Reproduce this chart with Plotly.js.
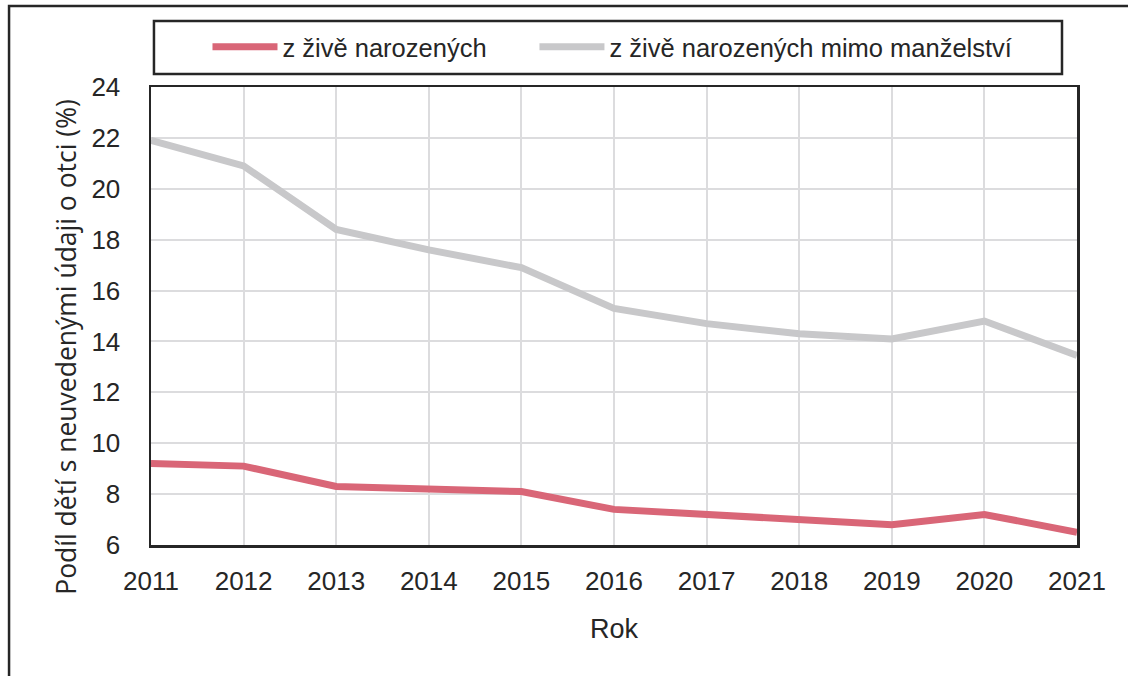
<!DOCTYPE html>
<html>
<head>
<meta charset="utf-8">
<script src="https://cdn.plot.ly/plotly-3.0.1.min.js"></script>
<style>
html,body{margin:0;padding:0;background:#fff;}
#chart{width:1128px;height:676px;}
</style>
</head>
<body>
<div id="chart"></div>
<script>
const years = [2011, 2012, 2013, 2014, 2015, 2016, 2017, 2018, 2019, 2020, 2021];
const zZiveNarozenych = [9.2, 9.1, 8.3, 8.2, 8.1, 7.4, 7.2, 6.95, 6.8, 7.2, 6.5];
const zZiveNarozenychMimoManzelstvi = [21.9, 20.9, 18.4, 17.6, 16.9, 15.3, 14.7, 14.3, 14.1, 14.8, 13.45];
const seriesNames = ["z živě narozených", "z živě narozených mimo manželství"];
const yTicks = [6, 8, 10, 12, 14, 16, 18, 20, 22, 24];
const yTitle = "Podíl dětí s neuvedenými údaji o otci (%)";
const xTitle = "Rok";

const tickFont = {family: "Liberation Sans, Arial, sans-serif", size: 26, color: "#262626"};
const legendFont = {family: "Liberation Sans, Arial, sans-serif", size: 25.5, color: "#262626"};

const traces = [
  {x: years, y: zZiveNarozenych, name: seriesNames[0], type: "scatter", mode: "lines",
   line: {color: "#D96677", width: 7}, legend: "legend"},
  {x: years, y: zZiveNarozenychMimoManzelstvi, name: seriesNames[1], type: "scatter", mode: "lines",
   line: {color: "#C8C8CA", width: 7}, legend: "legend2"}
];

const layout = {
  width: 1128, height: 676,
  margin: {l: 151, r: 51, t: 87, b: 131, pad: 0},
  paper_bgcolor: "#fff", plot_bgcolor: "#fff",
  showlegend: true,
  legend: {orientation: "h", x: 0.061, y: 1.087, xanchor: "left", yanchor: "middle",
           font: legendFont, bgcolor: "rgba(0,0,0,0)", borderwidth: 0, itemwidth: 65},
  legend2: {orientation: "h", x: 0.4141, y: 1.087, xanchor: "left", yanchor: "middle",
           font: legendFont, bgcolor: "rgba(0,0,0,0)", borderwidth: 0, itemwidth: 65},
  xaxis: {
    range: [2011, 2021], tickvals: years, ticktext: years.map(String),
    showgrid: true, gridcolor: "#DCDCDE", gridwidth: 2,
    showline: true, mirror: true, linecolor: "#262626", linewidth: 2.5,
    ticks: "", tickfont: tickFont, ticklabelstandoff: 11, zeroline: false,
    title: {text: xTitle, font: {family: "Liberation Sans, Arial, sans-serif", size: 27, color: "#262626"}, standoff: 25},
    automargin: false, fixedrange: true
  },
  yaxis: {
    range: [6, 24], tickvals: yTicks, ticktext: yTicks.map(String),
    showgrid: true, gridcolor: "#DCDCDE", gridwidth: 2,
    showline: true, mirror: true, linecolor: "#262626", linewidth: 2.5,
    ticks: "", tickfont: tickFont, ticklabelstandoff: 23, zeroline: false,
    automargin: false, fixedrange: true
  },
  annotations: [
    {text: yTitle, xref: "paper", yref: "paper", x: -0.092, y: 0.4323, xanchor: "center", yanchor: "middle",
     textangle: -90, showarrow: false, font: {family: "Open Sans, sans-serif", size: 26.5, color: "#262626"}}
  ],
  shapes: [
    {type: "rect", xref: "paper", yref: "paper", x0: -0.1533, x1: 1.2, y0: -0.4, y1: 1.1769,
     line: {color: "#262626", width: 2.5}, fillcolor: "rgba(0,0,0,0)", layer: "below"},
    {type: "rect", xref: "paper", yref: "paper", x0: 0.0032, x1: 0.9838, y0: 1.0284, y1: 1.1441,
     line: {color: "#262626", width: 2.5}, fillcolor: "rgba(0,0,0,0)", layer: "below"}
  ]
};

Plotly.newPlot("chart", traces, layout, {staticPlot: true, displayModeBar: false});
</script>
</body>
</html>
